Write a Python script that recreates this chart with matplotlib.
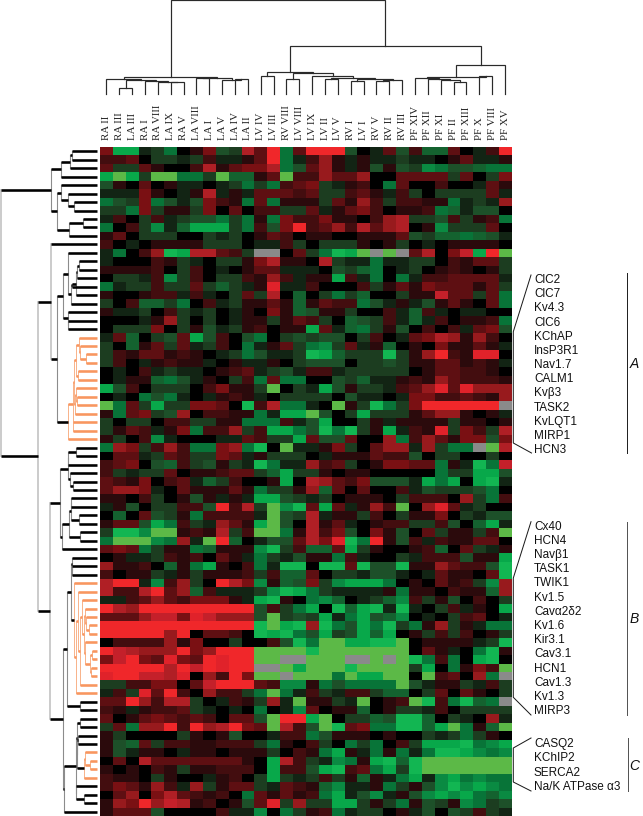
#!/usr/bin/env python3
"""Ion channel expression heat map with sample and gene dendrograms."""
import numpy as np
import matplotlib
matplotlib.use("Agg")
import matplotlib.pyplot as plt
from matplotlib.colors import ListedColormap

W, H = 643, 816
N = None

SAMPLES = ["RA II", "RA III", "LA III", "RA I", "RA VIII", "LA IX", "RA V", "LA VIII",
           "LA I", "LA V", "LA IV", "LA II", "LV IV", "LV III", "RV VIII", "LV VIII",
           "LV IX", "LV II", "LV V", "RV I", "LV I", "RV V", "RV II", "RV III",
           "PF XIV", "PF XII", "PF XI", "PF II", "PF XIII", "PF X", "PF VIII", "PF XV"]

# expression level per gene, -9 (green) .. 9 (red), None = missing
HEAT_LEFT = [
    [4,-7,-7,-1,-2,-5,0,1,4,-3,-2,6,3,9,-5,3],
    [2,2,3,0,-2,-2,-1,-2,2,-1,-1,1,3,9,-5,-1],
    [3,-2,-2,3,1,0,0,2,6,1,3,4,4,6,-5,-3],
    [-7,-9,-7,-2,-9,-9,-5,-5,-2,-9,-4,-4,1,3,-9,2],
    [-3,1,0,3,0,1,-1,-1,0,-1,-2,-5,-2,-5,2,3],
    [-1,-1,-1,4,1,0,-1,1,6,-1,1,-1,3,3,3,2],
    [-5,-3,-2,4,-5,-3,-1,-3,4,2,1,-5,3,-5,1,1],
    [-2,-2,-5,4,-2,1,1,-2,4,0,3,0,2,2,-2,-2],
    [-1,2,0,-2,2,-1,-2,-3,-3,-5,-2,-5,1,-5,4,2],
    [-5,0,2,-2,-6,-1,-4,-7,-7,-7,-2,-5,2,-3,4,9],
    [1,3,0,-2,-2,-2,0,0,-2,-1,-2,0,1,3,2,0],
    [2,0,-1,0,1,1,1,1,-2,-2,-2,0,-1,-1,2,-2],
    [-1,-5,0,2,5,-8,-7,6,6,3,2,-2,N,N,0,3],
    [-1,0,0,0,2,1,-2,-1,0,-2,-2,1,4,6,1,1],
    [1,1,1,1,2,0,-2,2,0,-1,0,1,3,3,-1,-1],
    [0,-2,-2,-1,2,-6,-2,2,0,-2,-2,2,1,5,2,-1],
    [-5,-1,-2,-2,2,-2,-2,3,-2,-4,-2,-1,1,8,-1,-1],
    [1,0,0,1,2,2,-1,2,-1,0,-2,3,-2,6,0,-4],
    [-2,0,2,-4,-4,-2,-5,0,2,-1,-2,1,1,3,1,-4],
    [1,-1,-1,-2,0,2,-2,-1,-2,0,-1,1,0,4,1,-4],
    [0,0,0,-1,1,5,-2,0,-2,0,-1,1,1,-2,1,3],
    [0,-2,-2,-2,4,0,-2,1,-3,-1,-2,1,2,0,1,1],
    [-1,3,-4,0,-2,-3,3,-7,-3,2,0,-3,-5,0,-2,-3],
    [-2,0,-4,1,3,-2,3,-1,-2,2,0,-5,-1,1,3,-2],
    [-2,2,1,3,3,1,2,1,0,-1,-2,-5,-3,-1,-1,-2],
    [-2,2,0,-1,1,2,1,1,-1,0,1,-1,-1,1,0,-2],
    [0,-1,0,2,-1,-2,-1,-1,0,1,2,3,-1,-2,-3,-1],
    [0,-1,1,1,-4,-5,-3,-1,1,0,-2,2,-5,3,-5,-5],
    [-7,-3,2,0,-2,-2,-2,0,2,4,1,1,-2,-9,0,-2],
    [0,-1,0,-5,-3,-5,-1,0,-1,1,2,1,-1,0,-2,-2],
    [-9,-5,3,-2,-7,-2,-2,4,4,3,0,-8,2,6,-5,-5],
    [1,-5,3,4,-2,-3,5,0,2,2,1,1,-5,-1,-7,-7],
    [-2,0,-2,-2,0,2,2,-2,-2,1,1,-5,-5,-5,2,-1],
    [-2,1,3,2,-1,1,4,-5,2,2,5,-2,2,-7,-7,-5],
    [1,-2,0,2,-6,-1,0,0,0,-1,-1,3,2,-2,-2,-7],
    [-5,5,4,-2,2,5,2,-5,-5,4,5,-5,-8,0,-9,-1],
    [0,3,3,-1,-2,3,2,-2,-2,4,3,-1,1,-2,-2,-2],
    [2,3,4,0,-3,-4,2,-2,-3,1,-2,-1,-8,-5,-1,-1],
    [2,-2,-1,-2,-2,3,0,1,1,2,3,3,-2,-4,-7,-2],
    [3,2,1,4,0,2,3,-1,-4,-2,2,0,0,1,-7,0],
    [3,5,5,4,-1,0,3,1,1,1,3,1,-5,-2,-2,1],
    [1,1,0,2,-2,0,1,-3,1,-1,1,-1,-7,-7,-3,-2],
    [-1,1,-3,0,-2,-2,2,2,-3,9,2,6,-2,-9,-6,-8],
    [0,-4,0,3,-3,-2,1,-5,2,2,2,2,-1,-9,-3,-2],
    [1,3,3,-3,-7,-5,2,-2,-1,5,3,1,-7,-9,-3,0],
    [-2,-8,-8,-6,-9,-9,1,2,1,6,-2,2,-9,-9,-5,1],
    [-5,-9,-9,-9,-6,-5,5,-1,-9,9,-4,0,-1,-3,-3,3],
    [3,4,3,-5,-2,1,1,-5,-4,1,1,1,-6,-8,-2,2],
    [0,1,-1,-1,-2,2,1,2,0,3,1,-1,-5,-2,-1,-3],
    [5,1,1,2,0,-4,1,-5,-7,1,0,2,-5,-1,-8,-8],
    [2,0,1,1,-2,-1,1,-2,1,1,1,2,-2,2,-4,-4],
    [6,9,9,-1,-6,2,5,-2,0,9,6,4,-6,1,-4,-3],
    [6,2,2,6,9,3,5,-4,2,-1,-1,-1,-2,-6,-8,-7],
    [-1,-1,2,3,5,3,2,4,4,4,1,-1,-7,-8,1,0],
    [9,6,5,9,9,9,9,9,9,9,9,9,-3,2,-2,-5],
    [3,3,3,5,7,7,4,8,7,5,5,5,-3,-9,-2,-3],
    [9,9,9,9,9,9,9,9,9,9,9,9,-8,-9,-7,-8],
    [9,9,9,9,9,5,9,0,3,3,2,0,-8,-7,-8,-5],
    [0,2,2,2,2,5,1,4,0,0,-2,0,0,2,-3,-8],
    [9,7,6,5,5,5,9,4,5,9,9,9,-9,-9,-9,-9],
    [4,7,9,4,3,8,4,3,9,8,9,9,-9,-9,N,N],
    [9,9,9,9,9,6,9,7,9,8,9,9,N,N,-9,-7],
    [8,9,9,7,7,6,8,0,5,2,9,4,-9,-9,N,-9],
    [-2,-2,2,2,4,4,0,3,7,9,9,9,3,2,-6,-6],
    [-1,2,-2,8,3,9,2,0,5,2,2,-2,-5,-9,-5,-1],
    [3,3,9,5,2,6,6,-2,0,-1,2,1,-2,5,-1,-9],
    [2,1,-1,1,2,2,3,-2,-1,0,-1,0,-5,0,-1,-6],
    [3,0,1,3,4,3,2,3,2,0,3,3,-3,-9,9,9],
    [-2,3,-5,5,5,9,2,9,5,6,9,4,3,-9,6,2],
    [1,-2,0,0,0,0,-2,1,0,1,-3,0,0,-1,2,2],
    [1,-3,-4,3,-2,2,2,1,1,2,2,2,-2,-5,1,0],
    [1,-3,-1,1,1,0,-1,1,1,0,1,1,1,-2,0,2],
    [0,3,0,6,3,3,3,3,3,3,3,1,0,-7,6,2],
    [1,0,1,0,2,1,-2,1,1,2,2,2,0,-7,2,2],
    [2,1,1,0,-2,1,0,0,-1,1,2,0,-2,-7,-2,-1],
    [2,4,3,1,5,2,-1,5,-2,1,3,3,-2,-1,3,2],
    [0,3,5,0,4,6,3,2,1,2,0,-5,3,1,3,1],
    [1,5,4,9,5,7,6,1,2,0,1,-3,3,8,-2,5],
    [1,3,3,3,-3,0,0,0,0,2,-1,-1,-6,0,-5,-2],
]
HEAT_RIGHT = [
    [9,9,9,-3,0,-1,3,-3,2,-4,-4,3,0,-1,2,9],
    [2,5,1,-1,1,-1,-1,-2,-1,-1,0,1,3,-1,-1,1],
    [3,5,1,-1,1,-3,1,-3,-2,-6,-5,-3,-3,-4,-5,-5],
    [2,5,3,3,5,0,0,3,3,3,3,-2,3,0,-2,4],
    [4,-2,-1,1,2,0,-5,3,0,0,2,0,0,-1,3,1],
    [3,-2,-2,2,3,1,-1,2,-2,0,-2,-2,-2,-2,3,-1],
    [1,-2,3,1,5,2,-2,2,2,1,1,-5,-1,-2,-1,5],
    [3,-1,1,3,4,2,0,1,1,2,-5,-4,-1,-3,-3,0],
    [2,4,1,1,0,2,5,6,-2,-2,-3,2,-2,1,2,-5],
    [2,3,5,2,6,3,5,6,0,1,-6,-2,-2,-2,3,0],
    [1,1,0,0,1,1,1,3,-3,-2,-4,-4,-5,-4,-3,-1],
    [0,-2,-2,-2,1,0,1,-2,0,-1,0,1,1,1,1,0],
    [-2,-5,-8,-7,-9,N,-9,N,3,6,0,4,7,-7,9,-9],
    [0,6,-2,-1,-1,-5,-1,-1,-2,-2,0,2,1,3,3,-2],
    [-1,0,-3,-2,-4,-5,0,-1,-2,0,1,2,1,0,1,-2],
    [1,1,-7,2,-1,-5,0,-5,-1,2,2,3,3,3,3,-1],
    [2,0,0,0,2,-2,1,3,1,4,3,3,3,1,3,-2],
    [0,-2,-5,-2,-4,0,0,-2,1,1,7,3,3,-2,3,-5],
    [1,3,2,2,-5,-3,-1,1,-1,-3,1,3,1,0,3,-5],
    [-3,1,1,-2,0,0,2,-1,-4,2,-1,0,-1,-1,0,0],
    [2,-2,0,-4,-3,-2,2,-1,-4,-1,2,0,1,1,2,-5],
    [-7,3,-1,-4,-5,-2,1,-3,0,2,0,2,-1,3,4,-3],
    [-2,-3,-3,0,-2,2,0,-1,3,4,6,5,1,5,2,0],
    [-5,-6,-2,3,-1,1,-4,0,1,0,4,1,1,3,1,-1],
    [-8,-7,-4,-2,-2,-2,-8,-2,1,5,9,2,1,8,8,0],
    [-3,-3,-3,0,-2,-2,-3,-2,1,1,3,3,1,2,1,-1],
    [2,2,-1,-2,-2,-2,-2,-2,0,1,3,3,2,2,1,0],
    [0,0,-3,-2,-4,-1,-1,1,2,1,5,3,2,2,2,1],
    [-1,-7,-3,1,-2,-2,-1,2,3,5,8,3,8,5,5,5],
    [-2,-2,0,-3,-1,-1,0,-1,4,4,2,2,3,2,1,5],
    [-1,0,-9,1,-2,-8,-5,-2,4,9,9,9,9,9,9,N],
    [-9,-3,0,-2,-7,-2,-2,-2,1,3,5,5,1,0,1,-1],
    [-3,-7,0,0,-2,1,-1,1,1,1,1,-2,1,1,0,1],
    [-3,-8,-5,-8,-2,1,-7,-1,2,1,8,-2,4,2,-2,6],
    [3,-3,-3,3,0,0,5,-5,2,5,3,1,4,4,-3,4],
    [-1,1,4,-2,0,3,5,5,-1,5,-2,-5,-5,N,-9,6],
    [0,-1,1,1,1,3,2,2,-3,0,-2,-2,0,0,-2,0],
    [5,2,3,-2,0,1,4,4,3,3,-5,1,-1,-8,-5,7],
    [-2,1,0,1,1,0,0,0,0,0,-5,-2,-2,-7,-7,-3],
    [6,5,3,2,4,-3,-3,-3,-1,-7,-5,-7,0,-7,-8,-1],
    [5,-4,3,0,3,0,0,2,-1,-3,-2,-2,-2,-3,-5,0],
    [-1,-2,0,1,1,1,0,-2,2,2,2,0,5,-2,-5,2],
    [3,-7,3,-1,1,5,2,-9,0,5,8,3,-1,-2,0,0],
    [6,-1,1,1,-2,2,0,-2,1,1,4,0,-2,-1,-3,-3],
    [6,1,3,-1,0,1,2,2,-2,-2,2,-3,0,-4,-7,-1],
    [6,2,4,-3,0,4,1,-3,0,3,-2,1,1,-2,2,-9],
    [6,4,8,-8,-5,9,1,-3,2,-1,2,1,1,3,3,0],
    [-4,-4,3,-7,-2,1,0,0,1,2,-4,0,3,-2,-1,1],
    [1,1,-5,2,-1,0,0,-2,-1,2,2,2,-3,1,1,-7],
    [0,-8,-8,3,-8,-3,-3,-8,1,1,5,3,2,2,-3,-8],
    [3,0,-2,-2,-1,-3,-3,-1,0,-1,3,1,1,0,3,-8],
    [4,-2,-6,-7,-7,-7,-5,0,1,0,3,1,2,-2,-6,5],
    [-5,-2,-1,-1,-1,-1,1,-5,1,1,0,2,1,1,-4,5],
    [-5,-6,-4,0,-1,-2,-4,-6,2,-2,1,-3,0,2,0,-2],
    [-7,0,-8,-4,-7,-8,-1,-8,-1,0,-2,2,-1,1,0,-7],
    [-2,-7,-1,-5,-7,-3,-4,-6,0,-1,0,-2,2,3,0,-1],
    [5,-8,-5,-3,-7,-5,-8,-2,-5,1,5,-2,1,-1,-5,-5],
    [-3,-7,-2,-3,-7,-4,-7,0,1,-2,2,-2,2,0,1,-2],
    [-5,-9,-9,-7,-7,-8,-8,-9,0,1,1,1,1,-1,-2,-8],
    [-8,-9,-9,-9,-9,-9,-9,-9,0,3,1,-1,0,-5,-8,1],
    [-9,-9,-9,N,N,-9,N,-9,-8,-5,2,-5,0,-7,-8,0],
    [-9,-9,-9,-8,-9,-9,-9,-9,-2,-7,0,-5,1,4,2,-9],
    [-9,-9,-5,-9,-7,-7,-9,-9,0,-9,2,3,0,5,-5,N],
    [1,-5,-3,-5,-5,-5,-5,-9,-3,-1,1,1,-2,-1,2,-2],
    [2,-2,-1,2,2,-2,-4,-4,0,-2,3,0,3,1,0,-2],
    [1,1,-2,-1,-9,0,1,2,-9,-8,2,-5,-8,-4,-5,N],
    [3,0,1,1,-4,0,1,-2,-2,-1,2,0,-2,-2,-2,-2],
    [-7,-9,0,-2,-2,-4,-3,-8,-8,-4,0,-2,-1,0,5,-1],
    [-3,-9,-8,3,4,-5,-5,-8,-8,-4,-7,-9,-5,1,-4,-9],
    [-5,-3,1,1,1,0,1,0,0,-2,-1,-2,-5,-2,1,0],
    [2,-2,0,-5,-2,-5,0,2,-2,-7,-7,-7,-8,-5,-6,-7],
    [1,-5,-7,1,-1,-5,1,-5,-1,-5,-8,-8,-7,-6,-5,-6],
    [-2,-1,-6,-5,1,-7,-8,-4,-8,-9,-9,-9,-9,-9,-9,-9],
    [-3,-7,-8,2,3,-5,-7,-2,-8,-9,-9,-9,-9,-9,-9,-9],
    [-2,2,-2,1,-4,1,-1,-5,-7,-1,-6,-7,-5,-6,-5,-5],
    [1,-4,-6,-1,-1,1,-5,-2,1,-3,-6,-8,-6,-7,-6,-5],
    [2,-5,-7,-1,-3,-6,-1,1,-3,-6,-7,-6,-7,-5,-4,-6],
    [-2,-2,-7,-7,-2,1,-2,-5,1,-3,-2,1,-6,-5,-2,-3],
    [1,2,-5,-1,-2,-2,0,1,-1,-3,0,-3,-2,2,-2,-1],
]

HEAT_COLORS = ["#5cb947", "#12b652", "#08a84a", "#0a8a42", "#087438", "#14622f",
               "#1d5029", "#1c3d20", "#122414", "#000000",
               "#2b0a0c", "#430d0f", "#5e0f12", "#7a1013", "#981a1d", "#b01f25",
               "#c4202a", "#e0222a", "#f0272a"]

# (node, child, child, merge distance); ints are leaves
COL_LINKS = [
    ("a1", 1, 2, 5.7), ("a2", 5, 6, 12.3), ("a3", 4, "a2", 12.4), ("a4", 3, "a3", 13),
    ("a5", "a1", "a4", 14), ("a6", 0, "a5", 14.7), ("a7", 7, 8, 15.7), ("a8", 10, 11, 14.7),
    ("a9", 9, "a8", 14), ("a10", "a7", "a9", 16.3), ("atria", "a6", "a10", 16.7),
    ("v1", 12, 13, 18), ("v2", 14, 15, 14.7), ("v3", 17, 18, 15.3), ("v4", 19, 20, 13.3),
    ("v5", 21, 22, 12.7), ("v6", "v5", 23, 14), ("v7", "v4", "v6", 14.7),
    ("v8", "v3", "v7", 15.7), ("v9", 16, "v8", 17.7), ("v10", "v2", "v9", 21.3),
    ("vent", "v1", "v10", 22.3),
    ("p1", 27, 28, 12.3), ("p2", 26, "p1", 14), ("p3", 25, "p2", 15.3), ("p4", 24, "p3", 15.7),
    ("p5", 29, 30, 17.7), ("p6", "p4", "p5", 17.3), ("pf", "p6", 31, 28.7),
    ("lower", "vent", "pf", 47.7), ("col_root", "atria", "lower", 94),
]

ROW_LINKS = [
    ("u1", 0, 1, 25), ("u2", "u1", 2, 27.3), ("u3", "u2", 3, 36.3),
    ("b1", 6, 7, 22.7), ("b2", 5, "b1", 29), ("b3", 4, "b2", 36),
    ("c1", 8, 9, 14.3), ("c2", "c1", 10, 27.7), ("c3", "b3", "c2", 40),
    ("top1", "u3", "c3", 45.7),
    ("g1", 13, 14, 18.3), ("g2", "g1", 15, 19.7), ("g3", "g2", 17, 21.3),
    ("g4", "g3", 16, 25.3), ("g5", "g4", 18, 26), ("f1", 12, "g5", 29),
    ("h1", 20, 21, 28.7), ("h2", 19, "h1", 29.3), ("e1", "f1", "h2", 34.3),
    ("o1", 24, 25, 10.7), ("o2", 23, "o1", 16.7), ("o3", 22, "o2", 18.3),
    ("o4", 26, 27, 19.3), ("o5", "o3", "o4", 21.3), ("o6", 29, 30, 20),
    ("o7", 28, "o6", 20.7), ("o8", "o7", 31, 22), ("o9", "o5", "o8", 23),
    ("o10", 32, 33, 24), ("o11", "o9", "o10", 24.3), ("o12", "o11", 34, 29),
    ("mid1", "e1", "o12", 40), ("mid2", 11, "mid1", 45.7),
    ("v1", 35, 36, 20.7), ("v2", "v1", 37, 28.7), ("v3", 39, 40, 24),
    ("v4", 38, "v3", 27.3), ("v5", "v2", "v4", 28.9),
    ("q1", 41, 42, 25.7), ("q2", 43, 44, 18.3), ("q3", "q1", "q2", 25.9),
    ("q4", 45, 46, 16.7), ("q5", "q3", "q4", 28), ("q6", "q5", 47, 35),
    ("v6", "v5", "q6", 37.3), ("k1", 49, 50, 24.7), ("k2", 48, "k1", 25.3),
    ("o20", 56, 57, 8.3), ("o21", 55, "o20", 10.7), ("o22", 54, "o21", 12.3),
    ("o23", 59, 60, 5), ("o24", 61, 62, 6), ("o25", "o23", "o24", 7.3),
    ("o26", 58, "o25", 11.7), ("o27", "o22", "o26", 13), ("o28", 53, "o27", 15),
    ("o29", "o28", 63, 17.3), ("o30", 52, "o29", 19.3), ("o31", "o30", 64, 21.3),
    ("o32", 51, "o31", 23.3), ("z1a", "k2", "o32", 26), ("rr", 65, 66, 16.7),
    ("z1", "z1a", "rr", 30), ("a1", 67, 68, 16.7), ("a2", 69, 70, 19.3),
    ("o40", 72, 73, 6.7), ("o41", 71, "o40", 11.7), ("o42", "o41", 74, 13.3),
    ("b5", "a2", "o42", 20), ("b6", "a1", "b5", 20.3), ("s1", 76, 77, 13.3),
    ("b7", 75, "s1", 20.7), ("b8", "b6", "b7", 20.8), ("z2", "b8", 78, 33.3),
    ("w", "z1", "z2", 34), ("second", "v6", "w", 47.3),
    ("third", "mid2", "second", 59), ("row_root", "top1", "third", 96),
]

LABELS_A = ["ClC2", "ClC7", "Kv4.3", "ClC6", "KChAP", "InsP3R1", "Nav1.7", "CALM1",
            "Kvβ3", "TASK2", "KvLQT1", "MIRP1", "HCN3"]
LABELS_B = ["Cx40", "HCN4", "Navβ1", "TASK1", "TWIK1", "Kv1.5", "Cavα2δ2", "Kv1.6",
            "Kir3.1", "Cav3.1", "HCN1", "Cav1.3", "Kv1.3", "MIRP3"]
LABELS_C = ["CASQ2", "KChIP2", "SERCA2", "Na/K ATPase α3"]


def px(v):
    return v * 72 / 100


def add_axes(fig, x0, y0, x1, y1):
    ax = fig.add_axes([x0 / W, 1 - y1 / H, (x1 - x0) / W, (y1 - y0) / H])
    ax.axis("off")
    return ax


def node_positions(links):
    pos, dist = {}, {}
    for name, a, b, d in links:
        for c in (a, b):
            if isinstance(c, int):
                pos[c], dist[c] = c + 0.5, 0
        pos[name], dist[name] = (pos[a] + pos[b]) / 2, d
    return pos, dist


def draw_col_tree(ax):
    pos, dist = node_positions(COL_LINKS)
    for name, a, b, d in COL_LINKS:
        ax.plot([pos[a], pos[a], pos[b], pos[b]], [dist[a], d, d, dist[b]], color="#2a2a2a",
                lw=px(1.2), solid_joinstyle="miter", clip_on=False)


def draw_row_tree(ax):
    pos, dist = node_positions(ROW_LINKS)
    for name, a, b, d in ROW_LINKS:
        orange = name.startswith("o")
        span = abs(pos[a] - pos[b])
        big = span > 12
        if orange:
            vcol, vlw = "#f8b48c", 1.0
        elif big and d > 40:
            vcol, vlw = "#c4c4c4", 1.7
        else:
            vcol, vlw = "#8c8c8c", 1.1
        ax.plot([d, d], [pos[a], pos[b]], color=vcol, lw=px(vlw), clip_on=False, zorder=1)
    for name, a, b, d in ROW_LINKS:
        col = "#f8965f" if name.startswith("o") else "black"
        for c in (a, b):
            ax.plot([dist[c], d], [pos[c], pos[c]], color=col, lw=px(2.6),
                    solid_capstyle="butt", clip_on=False, zorder=2)


def main():
    plt.rcParams["font.family"] = ["Liberation Sans", "DejaVu Sans"]
    fig = plt.figure(figsize=(W / 100, H / 100), dpi=100)

    heat = np.hstack([np.array(HEAT_LEFT, dtype=float), np.array(HEAT_RIGHT, dtype=float)])
    cmap = ListedColormap(HEAT_COLORS)
    cmap.set_bad("#8a8a8a")
    ax = add_axes(fig, 100, 147, 511.5, 816)
    ax.imshow(np.ma.masked_invalid(heat), cmap=cmap, vmin=-9.5, vmax=9.5, aspect="auto",
              interpolation="nearest", extent=(0, 32, 79, 0))

    top = add_axes(fig, 100, 0.5, 511.5, 94)
    top.set_xlim(0, 32)
    top.set_ylim(0, 93.5)
    draw_col_tree(top)

    side = add_axes(fig, 0, 147, 97, 816)
    side.set_xlim(97, 0)
    side.set_ylim(79, 0)
    draw_row_tree(side)

    fx = lambda x: x / W
    fy = lambda y: 1 - y / H
    for i, s in enumerate(SAMPLES):
        fig.text(fx(100 + 12.86 * (i + 0.5)), fy(140), s, rotation=90, ha="center", va="bottom",
                 family="Liberation Serif", fontsize=7.8, color="#222222")

    for labels, y0 in ((LABELS_A, 280), (LABELS_B, 526.7), (LABELS_C, 744.3)):
        for i, s in enumerate(labels):
            fig.text(fx(534), fy(y0 + 14.18 * i), s, ha="left", va="center", fontsize=8.5,
                     color="#111111")

    brackets = [
        ([531, 513.3, 513.3, 531.5], [275, 331.7, 443, 453]),
        ([531, 513.3, 513.3, 531], [521.7, 578, 697.3, 715]),
        ([531, 513.3, 513.3, 531], [738, 748, 782, 791]),
    ]
    for xs, ys in brackets:
        fig.add_artist(plt.Line2D([fx(x) for x in xs], [fy(y) for y in ys], color="#1a1a1a",
                                  lw=px(1.0)))
    for x, y0, y1, col, letter in ((627.3, 273, 453, "#222222", "A"),
                                   (626.7, 521.7, 715, "#555555", "B"),
                                   (628.3, 738, 791, "#555555", "C")):
        fig.add_artist(plt.Line2D([fx(x), fx(x)], [fy(y0), fy(y1)], color=col, lw=px(1.0)))
        fig.text(fx(634.5), fy((y0 + y1) / 2 + 1), letter, style="italic", ha="center", va="center",
                 fontsize=10, color="#111111")

    fig.savefig("out.png", dpi=100, facecolor="white")


if __name__ == "__main__":
    main()
